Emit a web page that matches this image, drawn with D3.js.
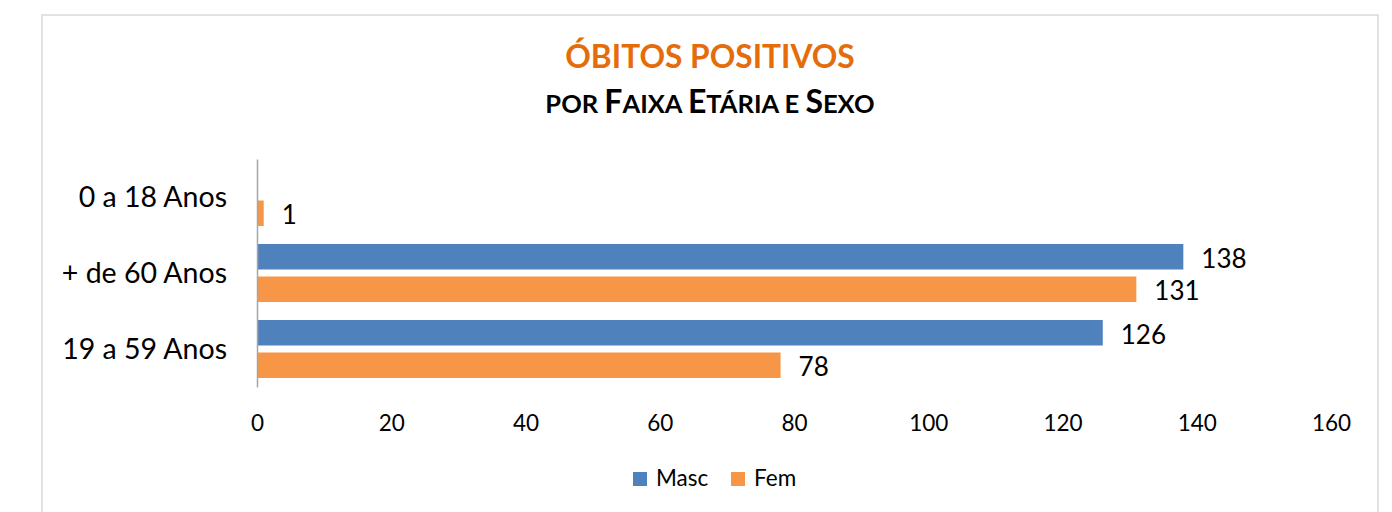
<!DOCTYPE html>
<html>
<head>
<meta charset="utf-8">
<script src="https://cdn.jsdelivr.net/npm/d3@7"></script>
<style>
  html, body { margin: 0; padding: 0; background: #fff; }
  svg { display: block; }
  text { font-family: Lato, "Open Sans", sans-serif; fill: #000; }
</style>
</head>
<body>
<svg id="chart" width="1392" height="512"></svg>
<script>
// ---- data ----
const categories = ["0 a 18 Anos", "+ de 60 Anos", "19 a 59 Anos"];
const seriesNames = ["Masc", "Fem"];
const mascValues = [null, 138, 126];
const femValues = [1, 131, 78];
const tickValues = [0, 20, 40, 60, 80, 100, 120, 140, 160];
const seriesColors = ["#4F81BD", "#F79646"];
const titleText = "ÓBITOS POSITIVOS";
const subtitleText = "por Faixa Etária e Sexo";

// ---- layout ----
const svg = d3.select("#chart");

// chart border
svg.append("rect")
  .attr("x", 42).attr("y", 15)
  .attr("width", 1336).attr("height", 520)
  .attr("fill", "#fff")
  .attr("stroke", "#D9D9D9")
  .attr("stroke-width", 1.5);

const cx = 710;

// title
svg.append("text")
  .attr("x", cx).attr("y", 68)
  .attr("text-anchor", "middle")
  .style("font-size", "31.7px")
  .style("font-weight", "bold")
  .style("fill", "#E46C0A")
  .text(titleText);

// subtitle (small caps)
const sub = svg.append("text")
  .attr("x", cx).attr("y", 113)
  .attr("text-anchor", "middle")
  .style("font-weight", "bold");
subtitleText.split(" ").forEach((word, wi, arr) => {
  const segs = [];
  for (const ch of word) {
    const big = ch === ch.toUpperCase() && ch !== ch.toLowerCase();
    const last = segs[segs.length - 1];
    if (last && last.big === big) last.t += ch; else segs.push({ big, t: ch });
  }
  if (wi < arr.length - 1) segs[segs.length - 1].t += " ";
  segs.forEach(s => {
    sub.append("tspan")
      .style("font-size", s.big ? "32px" : "25.5px")
      .text(s.t.toUpperCase());
  });
});

// scales
const x = d3.scaleLinear().domain([0, 160]).range([257, 1331]);
const y = d3.scaleBand().domain(categories).range([159, 387]).padding(0);
const ySub = d3.scaleBand().domain(seriesNames).range([0, y.bandwidth()])
  .paddingInner(0.215).paddingOuter(0.277);
const color = d3.scaleOrdinal().domain(seriesNames).range(seriesColors);

// rows
const rows = categories.map((c, i) => ({
  cat: c,
  vals: [
    { s: "Masc", v: mascValues[i] },
    { s: "Fem", v: femValues[i] }
  ]
}));

// x axis labels
const xAxis = d3.axisBottom(x).tickValues(tickValues).tickSize(0).tickPadding(0);
const gx = svg.append("g").attr("transform", "translate(0,387)").call(xAxis);
gx.select(".domain").remove();
gx.selectAll("text")
  .attr("y", 44).attr("dy", 0)
  .style("font-family", "Lato, 'Open Sans', sans-serif")
  .style("font-size", "22.5px")
  .attr("fill", "#000");

// bars
const groups = svg.append("g").selectAll("g")
  .data(rows).join("g")
  .attr("transform", d => `translate(0,${y(d.cat)})`);

groups.selectAll("rect")
  .data(d => d.vals.filter(v => v.v != null))
  .join("rect")
  .attr("x", x(0))
  .attr("y", d => ySub(d.s))
  .attr("width", d => x(d.v) - x(0))
  .attr("height", ySub.bandwidth())
  .attr("fill", d => color(d.s));

groups.selectAll("text.val")
  .data(d => d.vals.filter(v => v.v != null))
  .join("text")
  .attr("class", "val")
  .attr("x", d => x(d.v) + 18)
  .attr("y", d => ySub(d.s) + ySub.bandwidth() / 2 + 11)
  .style("font-size", "26px")
  .text(d => d.v);

// y axis
const yAxis = d3.axisLeft(y).tickSize(0).tickSizeOuter(0).tickPadding(30);
const gy = svg.append("g").attr("transform", `translate(${x(0)},0)`).call(yAxis);
gy.select(".domain").attr("stroke", "#A6A6A6").attr("stroke-width", 1.5);
gy.selectAll("text")
  .attr("dy", "0.35em")
  .style("font-family", "Lato, 'Open Sans', sans-serif")
  .style("font-size", "28.5px")
  .attr("fill", "#000");

// legend
const legendItems = [
  { s: "Masc", x: 633 },
  { s: "Fem", x: 731 }
];
const lg = svg.append("g").selectAll("g").data(legendItems).join("g")
  .attr("transform", d => `translate(${d.x},472)`);
lg.append("rect").attr("width", 14).attr("height", 14)
  .attr("fill", d => color(d.s));
lg.append("text").attr("x", 23).attr("y", 13.5)
  .style("font-size", "22.5px")
  .text(d => d.s);
</script>
</body>
</html>
